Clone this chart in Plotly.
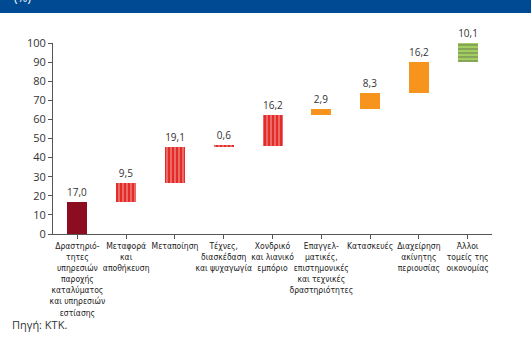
import plotly.graph_objects as go

# Sector contributions (%), in drawing order
categories = [
    "Δραστηριό-<br>τητες<br>υπηρεσιών<br>παροχής<br>καταλύματος<br>και υπηρεσιών<br>εστίασης",
    "Μεταφορά<br>και<br>αποθήκευση",
    "Μεταποίηση",
    "Τέχνες,<br>διασκέδαση<br>και ψυχαγωγία",
    "Χονδρικό<br>και λιανικό<br>εμπόριο",
    "Επαγγελ-<br>ματικές,<br>επιστημονικές<br>και τεχνικές<br>δραστηριότητες",
    "Κατασκευές",
    "Διαχείρηση<br>ακίνητης<br>περιουσίας",
    "Άλλοι<br>τομείς της<br>οικονομίας",
]
values = [17.0, 9.5, 19.1, 0.6, 16.2, 2.9, 8.3, 16.2, 10.1]
y_ticks = [0, 10, 20, 30, 40, 50, 60, 70, 80, 90, 100]

# Colour group of each bar
groups = ["dark", "red", "red", "red", "red", "orange", "orange", "orange", "green"]

style = {
    "dark": dict(color="#8B0D1F", shape="", fg="#8B0D1F"),
    "red": dict(color="#E32B27", shape="|", fg="#CF2222"),
    "orange": dict(color="#F7941E", shape="", fg="#F7941E"),
    "green": dict(color="#A2CD60", shape="-", fg="#7DAF40"),
}

# Cumulative bases for the waterfall
bases = []
running = 0.0
for v in values:
    bases.append(running)
    running += v

labels = [f"{v:.1f}".replace(".", ",") for v in values]

fig = go.Figure(
    go.Bar(
        x=list(range(len(categories))),
        y=values,
        base=bases,
        width=0.41,
        text=labels,
        textposition="outside",
        cliponaxis=False,
        textfont=dict(family="Open Sans, sans-serif", size=10, color="#333333"),
        marker=dict(
            color=[style[g]["color"] for g in groups],
            line=dict(width=0),
            pattern=dict(
                shape=[style[g]["shape"] for g in groups],
                fgcolor=[style[g]["fg"] for g in groups],
                bgcolor=[style[g]["color"] for g in groups],
                size=4,
                solidity=0.3,
            ),
        ),
        hoverinfo="skip",
    )
)

fig.update_layout(
    width=531,
    height=342,
    margin=dict(l=53, r=39, t=43, b=108),
    paper_bgcolor="white",
    plot_bgcolor="white",
    showlegend=False,
    bargap=0,
    xaxis=dict(
        tickmode="array",
        tickvals=list(range(len(categories))),
        ticktext=categories,
        range=[-0.5, len(categories) - 0.5],
        tickson="boundaries",
        ticks="outside",
        ticklen=4,
        tickcolor="#555555",
        showline=True,
        linecolor="#555555",
        linewidth=1,
        showgrid=False,
        zeroline=False,
        tickangle=0,
        tickfont=dict(family="Liberation Sans Narrow, DejaVu Sans Condensed, sans-serif",
                      size=8.5, color="#222222"),
    ),
    yaxis=dict(
        range=[0, 100],
        tickvals=y_ticks,
        ticks="outside",
        ticklen=4,
        tickcolor="#555555",
        showline=True,
        linecolor="#555555",
        linewidth=1,
        showgrid=False,
        zeroline=False,
        tickfont=dict(family="Open Sans, sans-serif", size=11, color="#333333"),
    ),
    shapes=[
        dict(
            type="rect", xref="paper", yref="paper",
            x0=-0.125, x1=1.095, y0=1.157, y1=1.24,
            fillcolor="#004A93", line=dict(width=0), layer="below",
        )
    ],
    annotations=[
        dict(
            text="(%)", xref="paper", yref="paper",
            x=-0.093, y=1.185, xanchor="left", yanchor="bottom",
            showarrow=False,
            font=dict(family="Open Sans, sans-serif", size=12, color="white"),
        ),
        dict(
            text="Πηγή: ΚΤΚ.", xref="paper", yref="paper",
            x=-0.098, y=-0.475, xanchor="left", yanchor="middle",
            showarrow=False,
            font=dict(family="Open Sans, sans-serif", size=11, color="#333333"),
        ),
    ],
)

fig.write_html("out.html")
